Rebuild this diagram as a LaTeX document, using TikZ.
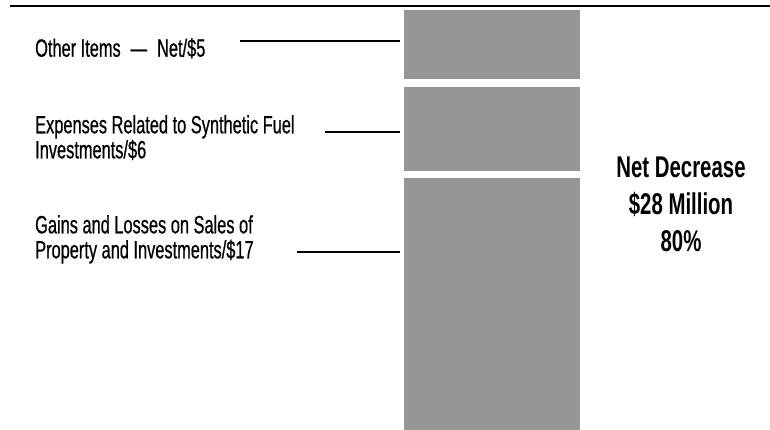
\documentclass[tikz,border=0pt]{standalone}
\usepackage{fontspec}
\setmainfont{Liberation Sans}[FakeStretch=0.655, FakeBold=0.6]
\newfontfamily\boldcond{Liberation Sans}[FakeStretch=0.68]
\begin{document}
\begin{tikzpicture}[x=1pt,y=-1pt,
  bar/.style={fill=barg, draw=none, inner sep=0pt, anchor=north west, minimum width=176pt},
  lab/.style={font=\fontsize{25}{25}\selectfont, align=left, inner sep=0pt, anchor=north west},
  conn/.style={line width=1.3pt, shorten >=4pt}]
\definecolor{barg}{HTML}{969696}
\useasboundingbox (0,0) rectangle (770,430);
\coordinate (r0) at (10,6);
\coordinate (r1) at (770,6);
\draw[line width=2.4pt] (r0) -- (r1);
\node[bar, minimum height=69pt] (b1) at (404,10) {};
\node[bar, minimum height=84pt] (b2) at (404,87) {};
\node[bar, minimum height=252pt] (b3) at (404,178) {};
\node[lab] (t1) at (35,38) {Other Items\hspace{10pt}—\hspace{10pt}Net/\$5};
\node[lab] (t2) at (35,115) {Expenses Related to Synthetic Fuel\\Investments/\$6};
\node[lab] (t3) at (35,215) {Gains and Losses on Sales of\\Property and Investments/\$17};
\coordinate (c1) at (240,41);
\coordinate (c2) at (325,132);
\coordinate (c3) at (297,252);
\draw[conn] (c1) -- (c1 -| b1.west);
\draw[conn] (c2) -- (c2 -| b2.west);
\draw[conn] (c3) -- (c3 -| b3.west);
\node[font=\boldcond\bfseries\fontsize{30}{37}\selectfont, align=center, inner sep=0pt, anchor=north] (net) at (681,157) {Net Decrease\\\$28 Million\\80\%};
\end{tikzpicture}
\end{document}
